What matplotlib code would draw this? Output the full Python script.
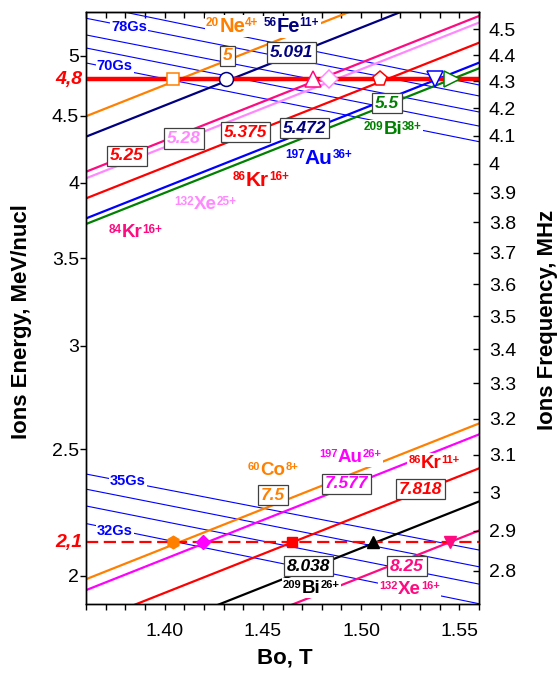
import matplotlib
matplotlib.use('Agg')
import matplotlib.pyplot as plt
from matplotlib.ticker import FixedLocator, FixedFormatter, NullLocator, MultipleLocator, NullFormatter
from matplotlib.offsetbox import TextArea, HPacker, AnnotationBbox

plt.rcParams['font.family'] = ['Liberation Sans', 'DejaVu Sans']

# ---------------- data ----------------
B_ends = [1.36, 1.56]

# upper group (E = 4.8 MeV/nucl)
E_hi = 4.8
hi_mass = ['20', '56', '84', '132', '86', '197', '209']
hi_sym = ['Ne', 'Fe', 'Kr', 'Xe', 'Kr', 'Au', 'Bi']
hi_charge = ['4+', '11+', '16+', '25+', '16+', '36+', '38+']
hi_AZ = ['5', '5.091', '5.25', '5.28', '5.375', '5.472', '5.5']
hi_E_start = [4.496, 4.337, 4.077, 4.030, 3.890, 3.755, 3.718]
hi_E_end = [5.916, 5.707, 5.365, 5.303, 5.118, 4.941, 4.892]
hi_B_cross = [1.4044, 1.4311, 1.4757, 1.4838, 1.5096, 1.5376, 1.5464]

# lower group (E = 2.1 MeV/nucl)
E_lo = 2.122
lo_mass = ['60', '197', '86', '209', '132']
lo_sym = ['Co', 'Au', 'Kr', 'Bi', 'Xe']
lo_charge = ['8+', '26+', '11+', '26+', '16+']
lo_AZ = ['7.5', '7.577', '7.818', '8.038', '8.25']
lo_E_start = [1.988, 1.950, 1.837, 1.733, 1.646]
lo_E_end = [2.616, 2.566, 2.417, 2.280, 2.166]
lo_B_cross = [1.4044, 1.4197, 1.465, 1.5062, 1.5452]

# iso-field lines (Gs)
gs_top_start = [5.478, 5.344, 5.189, 5.071, 4.939]
gs_top_end = [4.751, 4.660, 4.530, 4.419, 4.299]
gs_bot_start = [2.393, 2.330, 2.262, 2.193]
gs_bot_end = [2.093, 2.032, 1.971, 1.904]

E_ticks = [2, 2.5, 3, 3.5, 4, 4.5, 5]
E_ticklabels = ['2', '2.5', '3', '3.5', '4', '4.5', '5']
F_ticks = [2.8, 2.9, 3.0, 3.1, 3.2, 3.3, 3.4, 3.5, 3.6, 3.7, 3.8, 3.9, 4.0, 4.1, 4.2, 4.3, 4.4, 4.5]
F_ticklabels = ['2.8', '2.9', '3', '3.1', '3.2', '3.3', '3.4', '3.5', '3.6', '3.7', '3.8', '3.9',
                '4', '4.1', '4.2', '4.3', '4.4', '4.5']
B_ticks = [1.40, 1.45, 1.50, 1.55]
B_ticklabels = ['1.40', '1.45', '1.50', '1.55']

# ---------------- style ----------------
hi_colors = ['#ff8000', '#000080', '#ff0a80', '#ff88ff', '#ff0000', '#0000ff', '#008000']
hi_box_colors = ['#ff8000', '#000080', '#ff0000', '#ff88ff', '#ff0000', '#000080', '#008000']
hi_markers = ['s', 'o', '^', 'D', 'p', 'v', '>']
hi_msize = [9, 10, 11, 9, 11, 11, 11]
lo_colors = ['#ff8000', '#ff00ff', '#ff0000', '#000000', '#ff0a80']
lo_markers = ['h', 'D', 's', '^', 'v']
lo_msize = [9, 7, 7, 8, 8]

# label positions (axes fraction)
hi_label_pos = [(0.372, 0.976), (0.522, 0.975), (0.125, 0.628), (0.303, 0.674),
                (0.445, 0.716), (0.592, 0.752), (0.781, 0.801)]
hi_box_pos = [(0.360, 0.926), (0.522, 0.932), (0.104, 0.757), (0.249, 0.786),
              (0.405, 0.797), (0.555, 0.804), (0.766, 0.846)]
lo_label_pos = [(0.476, 0.226), (0.672, 0.248), (0.886, 0.238), (0.573, 0.027), (0.824, 0.024)]
lo_box_pos = [(0.476, 0.184), (0.664, 0.203), (0.852, 0.194), (0.565, 0.064), (0.817, 0.064)]
label_z_hi = [6, 6, 6, 6, 5, 7, 6]
hi_label_size = [14.5, 14.5, 13.5, 13.5, 15, 15, 13.5]

fig = plt.figure(figsize=(5.6, 6.73), dpi=100)
ax = fig.add_axes([86 / 560, 1 - 604 / 673, 393 / 560, 592 / 673])
ax.set_yscale('log')
ax.set_xlim(1.36, 1.56)
ax.set_ylim(1.903, 5.403)

# Gs lines
for s, e in zip(gs_top_start, gs_top_end):
    ax.plot(B_ends, [s, e], color='#0000ff', lw=0.8, zorder=1.5)
for s, e in zip(gs_bot_start, gs_bot_end):
    ax.plot(B_ends, [s, e], color='#0000ff', lw=0.8, zorder=1.5)

# ion lines
for s, e, c in zip(hi_E_start, hi_E_end, hi_colors):
    ax.plot(B_ends, [s, e], color=c, lw=1.6, zorder=2)
for s, e, c in zip(lo_E_start, lo_E_end, lo_colors):
    ax.plot(B_ends, [s, e], color=c, lw=1.6, zorder=2)

# energy lines
ax.axhline(E_hi, color='#ff0000', lw=3.2, zorder=3)
ax.axhline(E_lo, color='#ff0000', lw=1.6, dashes=(5.5, 2.5), zorder=3)

# markers
for b, c, m, ms in zip(hi_B_cross, hi_colors, hi_markers, hi_msize):
    ax.plot([b], [E_hi], marker=m, ms=ms, mfc='white', mec=c, mew=1.1, ls='none', zorder=4)
for b, c, m, ms in zip(lo_B_cross, lo_colors, lo_markers, lo_msize):
    ax.plot([b], [E_lo], marker=m, ms=ms, mfc=c, mec=c, mew=1, ls='none', zorder=4)


def ion_label(pos, mass, sym, charge, color, size=14, sup=8.5, z=6):
    parts = [TextArea(mass, textprops=dict(color=color, fontsize=sup, fontweight='bold')),
             TextArea(sym, textprops=dict(color=color, fontsize=size, fontweight='bold')),
             TextArea(charge, textprops=dict(color=color, fontsize=sup, fontweight='bold'))]
    pack = HPacker(children=parts, align='top', pad=0, sep=0)
    ab = AnnotationBbox(pack, pos, xycoords='axes fraction', frameon=True, pad=0.1,
                        box_alignment=(0.5, 0.5),
                        bboxprops=dict(facecolor='white', edgecolor='none'))
    ab.set_zorder(z)
    ax.add_artist(ab)


def box_label(pos, txt, color):
    ax.text(pos[0], pos[1], txt, transform=ax.transAxes, ha='center', va='center',
            color=color, fontsize=12.5, fontweight='bold', fontstyle='italic', zorder=6,
            bbox=dict(boxstyle='square,pad=0.16', fc='white', ec='#404040', lw=0.9))


for i in range(len(hi_sym)):
    ion_label(hi_label_pos[i], hi_mass[i], hi_sym[i], hi_charge[i], hi_colors[i],
              size=hi_label_size[i], z=label_z_hi[i])
    box_label(hi_box_pos[i], hi_AZ[i], hi_box_colors[i])
for i in range(len(lo_sym)):
    ion_label(lo_label_pos[i], lo_mass[i], lo_sym[i], lo_charge[i], lo_colors[i], size=13.5, sup=8)
    box_label(lo_box_pos[i], lo_AZ[i], lo_colors[i])

# Gs labels
for pos, txt in [((0.109, 0.974), '78Gs'), ((0.073, 0.909), '70Gs'),
                 ((0.106, 0.208), '35Gs'), ((0.074, 0.123), '32Gs')]:
    ax.text(pos[0], pos[1], txt, transform=ax.transAxes, ha='center', va='center',
            color='#0000ff', fontsize=10.5, fontweight='bold', zorder=6,
            bbox=dict(boxstyle='square,pad=0.08', fc='white', ec='none'))

# energy value labels on left
ax.text(-0.008, E_hi, '4,8', transform=ax.get_yaxis_transform(), ha='right', va='center',
        color='#ff0000', fontsize=14, fontweight='bold', fontstyle='italic', clip_on=False)
ax.text(-0.010, E_lo, '2,1', transform=ax.get_yaxis_transform(), ha='right', va='center',
        color='#ff0000', fontsize=14, fontweight='bold', fontstyle='italic', clip_on=False)

# axes styling
ax.yaxis.set_major_locator(FixedLocator(E_ticks))
ax.yaxis.set_major_formatter(FixedFormatter(E_ticklabels))
ax.yaxis.set_minor_locator(NullLocator())
ax.tick_params(axis='y', which='major', direction='out', length=4, width=1, labelsize=14, pad=1)
ax.xaxis.set_major_locator(FixedLocator(B_ticks))
ax.xaxis.set_major_formatter(FixedFormatter(B_ticklabels))
ax.xaxis.set_minor_locator(MultipleLocator(0.01))
ax.tick_params(axis='x', which='both', direction='out', length=4, width=1, labelsize=14, pad=10)
for sp in ax.spines.values():
    sp.set_linewidth(1)

sec = ax.secondary_xaxis('top')
sec.xaxis.set_major_locator(MultipleLocator(0.01))
sec.xaxis.set_major_formatter(NullFormatter())
sec.tick_params(axis='x', direction='in', length=4, width=1)

ax2 = ax.twinx()
ax2.set_yscale('log')
ax2.set_ylim(2.72, 4.569)
ax2.yaxis.set_major_locator(FixedLocator(F_ticks))
ax2.yaxis.set_major_formatter(FixedFormatter(F_ticklabels))
ax2.yaxis.set_minor_locator(NullLocator())
ax2.tick_params(axis='y', which='major', direction='in', length=4, width=1, labelsize=14, pad=7)
for sp in ax2.spines.values():
    sp.set_linewidth(1)

fig.text(22 / 560, 1 - 322 / 673, 'Ions Energy, MeV/nucl', rotation=90, ha='center', va='center',
         fontsize=16, fontweight='bold')
fig.text(547 / 560, 1 - 320 / 673, 'Ions Frequency, MHz', rotation=90, ha='center', va='center',
         fontsize=16, fontweight='bold')
fig.text(285 / 560, 1 - 658 / 673, 'Bo, T', ha='center', va='center', fontsize=16, fontweight='bold')

fig.savefig('out.png', dpi=100)
